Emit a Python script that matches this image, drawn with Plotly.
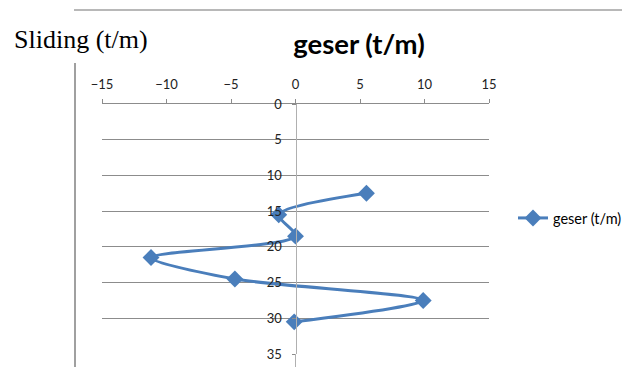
import plotly.graph_objects as go

# Data
shear = [5.5, -1.3, 0.0, -11.2, -4.7, 9.9, -0.1]
depth = [12.5, 15.5, 18.5, 21.5, 24.5, 27.5, 30.5]
series_name = "geser (t/m)"
chart_title = "geser (t/m)"
doc_caption = "Sliding (t/m)"

OFF = 8  # default page body margin
W, H = 630 - OFF, 367 - OFF


def px(x):
    return (x - OFF) / W


def py(y):
    return 1 - (y - OFF) / H


x0p, x1p = 102, 489   # plot area in window px
y0p, y1p = 104, 354

blue = "#4A7EBB"
grid = "#8C8C8C"
font = "Lato"

fig = go.Figure()
fig.add_trace(go.Scatter(
    x=shear, y=depth, name=series_name, mode="lines+markers",
    line=dict(color=blue, width=3, shape="spline", smoothing=0.8),
    marker=dict(symbol="diamond", size=13, color=blue),
))

fig.update_layout(
    width=W, height=H,
    margin=dict(l=0, r=0, t=0, b=0, autoexpand=False),
    paper_bgcolor="white", plot_bgcolor="white",
    showlegend=True,
    legend=dict(x=px(513), y=py(218), xanchor="left", yanchor="middle",
                font=dict(family=font, size=14.5, color="#000"),
                bgcolor="rgba(0,0,0,0)", borderwidth=0),
    title=dict(text="<b>%s</b>" % chart_title, x=px(359), xanchor="center",
               y=py(44), yanchor="middle",
               font=dict(family=font, size=27.5, color="#000")),
    xaxis=dict(domain=[px(x0p), px(x1p)], range=[-15, 15], side="top",
               dtick=5, showgrid=False, zeroline=False,
               showline=True, linecolor=grid, linewidth=1,
               ticks="outside", ticklen=4, tickcolor=grid,
               ticklabelstandoff=5,
               tickfont=dict(family=font, size=13, color="#222"),
               fixedrange=True),
    yaxis=dict(domain=[py(y1p), py(y0p)], range=[35, 0],
               dtick=5, showgrid=True, gridcolor=grid, gridwidth=1,
               zeroline=False, showline=True, linecolor="#B0B0B0",
               anchor="free", position=px((x0p + x1p) / 2),
               ticks="outside", ticklen=4, tickcolor=grid,
               ticklabelstandoff=7,
               tickfont=dict(family=font, size=13, color="#222"),
               fixedrange=True),
)

# document decorations
fig.add_shape(type="line", xref="paper", yref="paper",
              x0=px(74), x1=1, y0=py(10), y1=py(10),
              line=dict(color="#A0A0A0", width=1.5))
fig.add_shape(type="line", xref="paper", yref="paper",
              x0=px(75), x1=px(75), y0=0, y1=py(63),
              line=dict(color="#808080", width=1.5))
# axis line continuation below the plot
fig.add_shape(type="line", xref="x", yref="paper",
              x0=0, x1=0, y0=0, y1=py(y1p),
              line=dict(color="#B0B0B0", width=1))
fig.add_annotation(text=doc_caption, xref="paper", yref="paper",
                   x=px(12), y=py(40), xanchor="left", yanchor="middle",
                   showarrow=False,
                   font=dict(family="Liberation Serif", size=26, color="#000"))

fig.write_html("out.html")
